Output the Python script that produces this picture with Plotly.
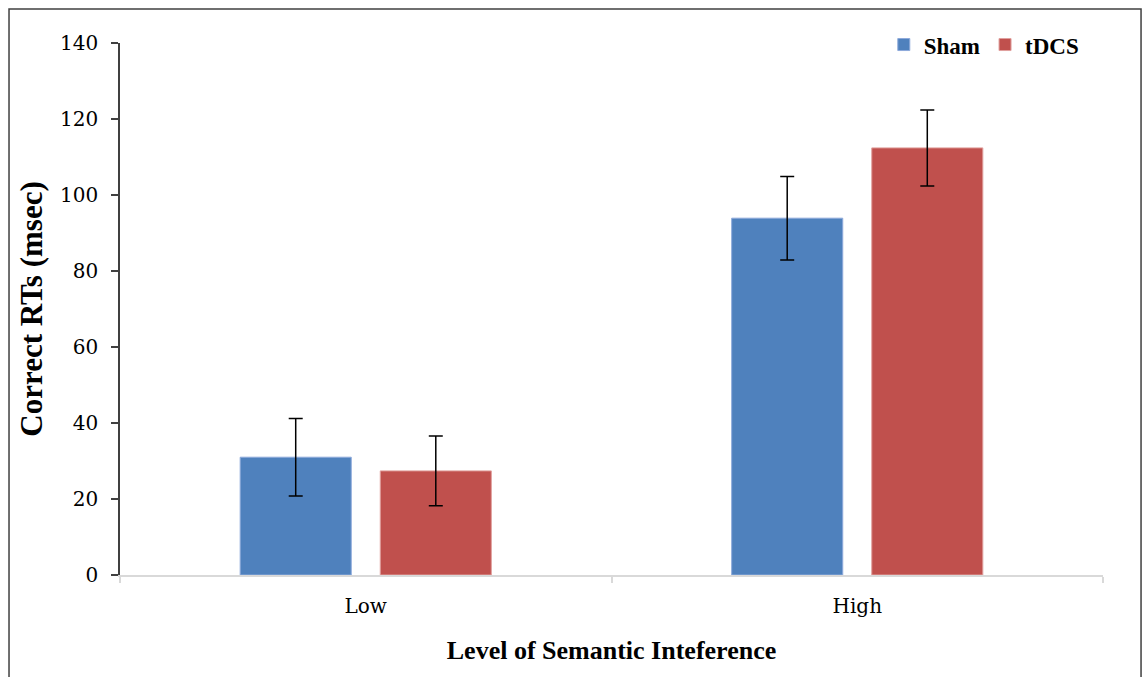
import plotly.graph_objects as go

# Interference levels and mean correct reaction times (msec) with error margins
levels = ["Low", "High"]
sham_rt = [31.0, 93.9]
sham_err = [10.2, 11.0]
tdcs_rt = [27.4, 112.4]
tdcs_err = [9.2, 10.0]

y_ticks = [0, 20, 40, 60, 80, 100, 120, 140]

SERIF = "DejaVu Serif, serif"
TITLE_SERIF = "Liberation Serif, Times New Roman, serif"

fig = go.Figure()
fig.add_trace(go.Bar(
    name="<b>Sham</b>", x=levels, y=sham_rt,
    marker=dict(color="#4F81BD", line=dict(color="#8EAADB", width=1)),
    error_y=dict(type="data", array=sham_err, color="black", thickness=1.5, width=7),
))
fig.add_trace(go.Bar(
    name="<b>tDCS</b>", x=levels, y=tdcs_rt,
    marker=dict(color="#C0504D", line=dict(color="#E0A09E", width=1)),
    error_y=dict(type="data", array=tdcs_err, color="black", thickness=1.5, width=7),
))

fig.update_layout(
    width=1143, height=677,
    margin=dict(l=120, r=40, t=43, b=102),
    paper_bgcolor="white", plot_bgcolor="white",
    barmode="group", bargap=0.43, bargroupgap=0.207,
    font=dict(family=SERIF, size=19, color="black"),
    showlegend=True,
    legend=dict(
        orientation="h", x=0.777, y=0.997, xanchor="left", yanchor="middle",
        font=dict(family=TITLE_SERIF, size=23, color="black"),
        bgcolor="rgba(0,0,0,0)", itemwidth=30,
    ),
    xaxis=dict(
        type="category", tickson="boundaries",
        showline=True, linecolor="#D9D9D9", linewidth=2,
        ticks="outside", ticklen=6, tickcolor="#D9D9D9", tickwidth=2,
        ticklabelstandoff=12,
        showgrid=False, zeroline=False,
        tickfont=dict(family=SERIF, size=20),
        title=dict(text="<b>Level of Semantic Inteference</b>",
                   font=dict(family=TITLE_SERIF, size=26), standoff=24),
    ),
    yaxis=dict(
        range=[0, 140], tickvals=y_ticks,
        showline=True, linecolor="#404040", linewidth=1.5,
        ticks="outside", ticklen=7, tickcolor="#404040", tickwidth=1.5,
        ticklabelstandoff=9,
        showgrid=False, zeroline=False,
        tickfont=dict(family=SERIF, size=20),
        title=dict(text="<b>Correct RTs (msec)</b>",
                   font=dict(family=TITLE_SERIF, size=31), standoff=8),
    ),
)

# Frame around the whole chart
fig.add_shape(
    type="rect", xref="paper", yref="paper",
    x0=-0.1129, x1=1.0387, y0=-0.25, y1=1.0639,
    line=dict(color="#404040", width=1.5), fillcolor="rgba(0,0,0,0)",
    layer="below",
)

fig.write_html("out.html")
